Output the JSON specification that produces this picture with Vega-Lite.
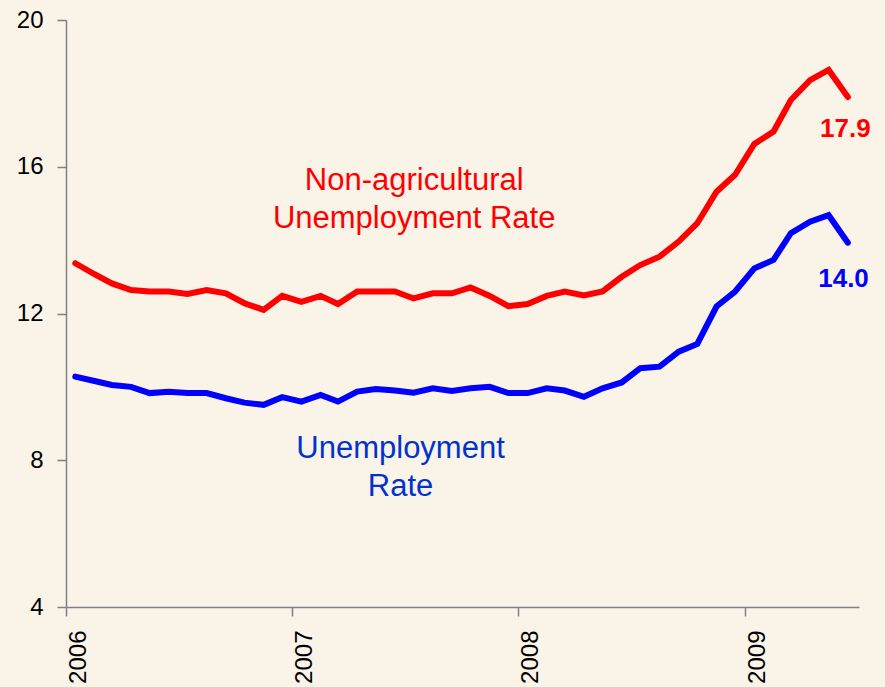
{
  "$schema": "https://vega.github.io/schema/vega-lite/v6.json",
  "width": 793,
  "height": 587,
  "autosize": {"type": "none"},
  "padding": {"left": 66, "top": 20, "right": 26, "bottom": 80},
  "background": "#FAF3E8",
  "config": {"view": {"stroke": null}, "font": "Liberation Sans"},
  "datasets": {
    "series": [
      {"series": "Non-agricultural", "date": "2006-01-16", "rate": 13.37},
      {"series": "Non-agricultural", "date": "2006-02-16", "rate": 13.07},
      {"series": "Non-agricultural", "date": "2006-03-16", "rate": 12.82},
      {"series": "Non-agricultural", "date": "2006-04-16", "rate": 12.64},
      {"series": "Non-agricultural", "date": "2006-05-16", "rate": 12.6},
      {"series": "Non-agricultural", "date": "2006-06-16", "rate": 12.6},
      {"series": "Non-agricultural", "date": "2006-07-16", "rate": 12.53},
      {"series": "Non-agricultural", "date": "2006-08-16", "rate": 12.64},
      {"series": "Non-agricultural", "date": "2006-09-16", "rate": 12.55},
      {"series": "Non-agricultural", "date": "2006-10-16", "rate": 12.28},
      {"series": "Non-agricultural", "date": "2006-11-16", "rate": 12.1},
      {"series": "Non-agricultural", "date": "2006-12-16", "rate": 12.48},
      {"series": "Non-agricultural", "date": "2007-01-16", "rate": 12.32},
      {"series": "Non-agricultural", "date": "2007-02-16", "rate": 12.48},
      {"series": "Non-agricultural", "date": "2007-03-16", "rate": 12.26},
      {"series": "Non-agricultural", "date": "2007-04-16", "rate": 12.6},
      {"series": "Non-agricultural", "date": "2007-05-16", "rate": 12.6},
      {"series": "Non-agricultural", "date": "2007-06-16", "rate": 12.6},
      {"series": "Non-agricultural", "date": "2007-07-16", "rate": 12.41},
      {"series": "Non-agricultural", "date": "2007-08-16", "rate": 12.55},
      {"series": "Non-agricultural", "date": "2007-09-16", "rate": 12.55},
      {"series": "Non-agricultural", "date": "2007-10-16", "rate": 12.71},
      {"series": "Non-agricultural", "date": "2007-11-16", "rate": 12.48},
      {"series": "Non-agricultural", "date": "2007-12-16", "rate": 12.2},
      {"series": "Non-agricultural", "date": "2008-01-16", "rate": 12.26},
      {"series": "Non-agricultural", "date": "2008-02-16", "rate": 12.48},
      {"series": "Non-agricultural", "date": "2008-03-16", "rate": 12.6},
      {"series": "Non-agricultural", "date": "2008-04-16", "rate": 12.49},
      {"series": "Non-agricultural", "date": "2008-05-16", "rate": 12.6},
      {"series": "Non-agricultural", "date": "2008-06-16", "rate": 13.0},
      {"series": "Non-agricultural", "date": "2008-07-16", "rate": 13.32},
      {"series": "Non-agricultural", "date": "2008-08-16", "rate": 13.55},
      {"series": "Non-agricultural", "date": "2008-09-16", "rate": 13.96},
      {"series": "Non-agricultural", "date": "2008-10-16", "rate": 14.46},
      {"series": "Non-agricultural", "date": "2008-11-16", "rate": 15.32},
      {"series": "Non-agricultural", "date": "2008-12-16", "rate": 15.78},
      {"series": "Non-agricultural", "date": "2009-01-16", "rate": 16.62},
      {"series": "Non-agricultural", "date": "2009-02-16", "rate": 16.96},
      {"series": "Non-agricultural", "date": "2009-03-16", "rate": 17.82},
      {"series": "Non-agricultural", "date": "2009-04-16", "rate": 18.36},
      {"series": "Non-agricultural", "date": "2009-05-16", "rate": 18.64},
      {"series": "Non-agricultural", "date": "2009-06-16", "rate": 17.9},
      {"series": "Unemployment", "date": "2006-01-16", "rate": 10.28},
      {"series": "Unemployment", "date": "2006-02-16", "rate": 10.16},
      {"series": "Unemployment", "date": "2006-03-16", "rate": 10.05},
      {"series": "Unemployment", "date": "2006-04-16", "rate": 10.0},
      {"series": "Unemployment", "date": "2006-05-16", "rate": 9.83},
      {"series": "Unemployment", "date": "2006-06-16", "rate": 9.87},
      {"series": "Unemployment", "date": "2006-07-16", "rate": 9.83},
      {"series": "Unemployment", "date": "2006-08-16", "rate": 9.83},
      {"series": "Unemployment", "date": "2006-09-16", "rate": 9.69},
      {"series": "Unemployment", "date": "2006-10-16", "rate": 9.57},
      {"series": "Unemployment", "date": "2006-11-16", "rate": 9.51},
      {"series": "Unemployment", "date": "2006-12-16", "rate": 9.72},
      {"series": "Unemployment", "date": "2007-01-16", "rate": 9.6},
      {"series": "Unemployment", "date": "2007-02-16", "rate": 9.78},
      {"series": "Unemployment", "date": "2007-03-16", "rate": 9.6},
      {"series": "Unemployment", "date": "2007-04-16", "rate": 9.87},
      {"series": "Unemployment", "date": "2007-05-16", "rate": 9.94},
      {"series": "Unemployment", "date": "2007-06-16", "rate": 9.9},
      {"series": "Unemployment", "date": "2007-07-16", "rate": 9.84},
      {"series": "Unemployment", "date": "2007-08-16", "rate": 9.96},
      {"series": "Unemployment", "date": "2007-09-16", "rate": 9.89},
      {"series": "Unemployment", "date": "2007-10-16", "rate": 9.96},
      {"series": "Unemployment", "date": "2007-11-16", "rate": 10.0},
      {"series": "Unemployment", "date": "2007-12-16", "rate": 9.83},
      {"series": "Unemployment", "date": "2008-01-16", "rate": 9.83},
      {"series": "Unemployment", "date": "2008-02-16", "rate": 9.96},
      {"series": "Unemployment", "date": "2008-03-16", "rate": 9.9},
      {"series": "Unemployment", "date": "2008-04-16", "rate": 9.73},
      {"series": "Unemployment", "date": "2008-05-16", "rate": 9.96},
      {"series": "Unemployment", "date": "2008-06-16", "rate": 10.12},
      {"series": "Unemployment", "date": "2008-07-16", "rate": 10.51},
      {"series": "Unemployment", "date": "2008-08-16", "rate": 10.55},
      {"series": "Unemployment", "date": "2008-09-16", "rate": 10.96},
      {"series": "Unemployment", "date": "2008-10-16", "rate": 11.17},
      {"series": "Unemployment", "date": "2008-11-16", "rate": 12.19},
      {"series": "Unemployment", "date": "2008-12-16", "rate": 12.6},
      {"series": "Unemployment", "date": "2009-01-16", "rate": 13.23},
      {"series": "Unemployment", "date": "2009-02-16", "rate": 13.46},
      {"series": "Unemployment", "date": "2009-03-16", "rate": 14.19},
      {"series": "Unemployment", "date": "2009-04-16", "rate": 14.5},
      {"series": "Unemployment", "date": "2009-05-16", "rate": 14.68},
      {"series": "Unemployment", "date": "2009-06-16", "rate": 13.93}
    ],
    "notes": [
      {"kind": "red", "date": "2007-07-17", "rate": 15.37, "label": "Non-agricultural"},
      {"kind": "red", "date": "2007-07-17", "rate": 14.33, "label": "Unemployment Rate"},
      {"kind": "blue", "date": "2007-06-25", "rate": 8.06, "label": "Unemployment"},
      {"kind": "blue", "date": "2007-06-25", "rate": 7.03, "label": "Rate"},
      {"kind": "rednum", "date": "2009-06-12", "rate": 16.81, "label": "17.9"},
      {"kind": "bluenum", "date": "2009-06-09", "rate": 12.72, "label": "14.0"}
    ]
  },
  "layer": [
    {
      "data": {"name": "series"},
      "mark": {"type": "line", "strokeWidth": 6, "strokeCap": "round", "strokeJoin": "miter"},
      "encoding": {
        "x": {
          "field": "date",
          "type": "temporal",
          "scale": {"domain": [{"year": 2006, "month": 1, "date": 1}, {"year": 2009, "month": 7, "date": 4}]},
          "axis": {
            "title": null,
            "grid": false,
            "values": [{"year": 2006, "month": 1, "date": 1}, {"year": 2007, "month": 1, "date": 1}, {"year": 2008, "month": 1, "date": 1}, {"year": 2009, "month": 1, "date": 1}],
            "format": "%Y",
            "labelAngle": -90,
            "labelBaseline": "top",
            "labelAlign": "right",
            "labelFontSize": 24,
            "labelColor": "#000000",
            "labelPadding": 14,
            "tickSize": 9,
            "tickColor": "#808080",
            "tickWidth": 1.5,
            "domainColor": "#808080",
            "domainWidth": 1.5
          }
        },
        "y": {
          "field": "rate",
          "type": "quantitative",
          "scale": {"domain": [4, 20], "nice": false},
          "axis": {
            "title": null,
            "grid": false,
            "values": [4, 8, 12, 16, 20],
            "labelFontSize": 24,
            "labelColor": "#000000",
            "labelPadding": 14,
            "tickSize": 9,
            "tickColor": "#808080",
            "tickWidth": 1.5,
            "domainColor": "#808080",
            "domainWidth": 1.5
          }
        },
        "color": {
          "field": "series",
          "type": "nominal",
          "scale": {"domain": ["Non-agricultural", "Unemployment"], "range": ["#FF0000", "#0000FF"]},
          "legend": null
        }
      }
    },
    {
      "data": {"name": "notes"},
      "transform": [{"filter": "datum.kind === 'red'"}],
      "mark": {"type": "text", "align": "center", "baseline": "alphabetic", "fontSize": 31, "color": "#FF0000"},
      "encoding": {
        "x": {"field": "date", "type": "temporal"},
        "y": {"field": "rate", "type": "quantitative"},
        "text": {"field": "label"}
      }
    },
    {
      "data": {"name": "notes"},
      "transform": [{"filter": "datum.kind === 'blue'"}],
      "mark": {"type": "text", "align": "center", "baseline": "alphabetic", "fontSize": 31, "color": "#0033CC"},
      "encoding": {
        "x": {"field": "date", "type": "temporal"},
        "y": {"field": "rate", "type": "quantitative"},
        "text": {"field": "label"}
      }
    },
    {
      "data": {"name": "notes"},
      "transform": [{"filter": "datum.kind === 'rednum'"}],
      "mark": {"type": "text", "align": "center", "baseline": "alphabetic", "fontSize": 26, "fontWeight": "bold", "color": "#FF0000"},
      "encoding": {
        "x": {"field": "date", "type": "temporal"},
        "y": {"field": "rate", "type": "quantitative"},
        "text": {"field": "label"}
      }
    },
    {
      "data": {"name": "notes"},
      "transform": [{"filter": "datum.kind === 'bluenum'"}],
      "mark": {"type": "text", "align": "center", "baseline": "alphabetic", "fontSize": 26, "fontWeight": "bold", "color": "#0000FF"},
      "encoding": {
        "x": {"field": "date", "type": "temporal"},
        "y": {"field": "rate", "type": "quantitative"},
        "text": {"field": "label"}
      }
    }
  ]
}
